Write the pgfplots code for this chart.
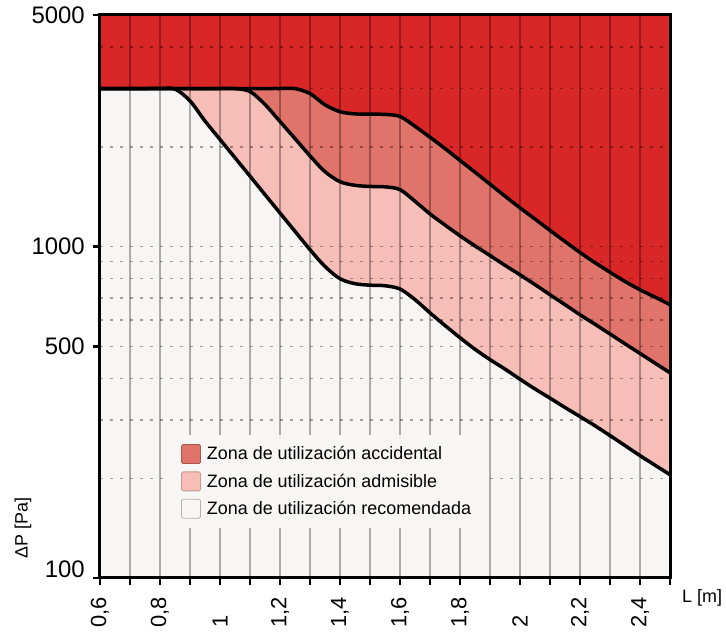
\documentclass[border=0pt]{standalone}
\usepackage{fontspec}
\setmainfont{Liberation Sans}
\usepackage{pgfplots}
\usepackage{pgfplotstable}
\pgfplotsset{compat=1.18}
\definecolor{dred}{RGB}{217,38,38}
\definecolor{acc}{RGB}{224,116,106}
\definecolor{adm}{RGB}{246,190,182}
\definecolor{rec}{RGB}{247,246,244}
\pgfplotstableread{
x y
0.60 3000
1.00 3000
1.10 3000
1.15 3000
1.20 3000
1.25 2998
1.30 2897
1.35 2679
1.40 2553
1.45 2515
1.50 2509
1.55 2506
1.60 2470
1.65 2307
1.70 2138
1.75 1977
1.80 1820
1.85 1677
1.90 1543
1.95 1420
2.00 1309
2.05 1211
2.10 1119
2.15 1036
2.20 960
2.25 894
2.30 837
2.35 785
2.40 741
2.45 704
2.50 668
}\curveA
\pgfplotstableread{
x y
0.60 3000
0.85 3000
0.95 3000
1.00 3000
1.05 2999
1.10 2938
1.15 2685
1.20 2385
1.25 2118
1.30 1879
1.35 1683
1.40 1570
1.45 1531
1.50 1519
1.55 1515
1.60 1486
1.65 1370
1.70 1255
1.75 1162
1.80 1078
1.85 1005
1.90 940
1.95 878
2.00 822
2.05 768
2.10 716
2.15 668
2.20 623
2.25 583
2.30 545
2.35 509
2.40 476
2.45 445
2.50 416
}\curveB
\pgfplotstableread{
x y
0.60 3000
0.70 3000
0.75 3000
0.80 3000
0.85 2989
0.90 2754
0.95 2393
1.00 2106
1.05 1854
1.10 1632
1.15 1435
1.20 1263
1.25 1112
1.30 979
1.35 871
1.40 800
1.45 773
1.50 765
1.55 762
1.60 745
1.65 692
1.70 631
1.75 578
1.80 531
1.85 490
1.90 456
1.95 427
2.00 398
2.05 372
2.10 349
2.15 327
2.20 307
2.25 288
2.30 269
2.35 251
2.40 234
2.45 219
2.50 205
}\curveC
\begin{document}
\begin{tikzpicture}
\path[use as bounding box] (-100bp,-54bp) rectangle (626bp,578bp);
\begin{axis}[
  at={(0,0)}, anchor=south west,
  scale only axis, width=570bp, height=563bp,
  xmin=0.6, xmax=2.5, ymode=log, ymin=100, ymax=5000,
  axis background/.style={fill=dred},
  axis on top,
  axis line style={line width=3bp, black},
  tick align=outside, tick pos=left,
  major tick length=7bp, minor tick length=0pt,
  major tick style={black, line width=2.5bp},
  xtick={0.6,0.7,0.8,0.9,1.0,1.1,1.2,1.3,1.4,1.5,1.6,1.7,1.8,1.9,2.0,2.1,2.2,2.3,2.4,2.5},
  xticklabels={{0,6},{},{0,8},{},{1},{},{1,2},{},{1,4},{},{1,6},{},{1,8},{},{2},{},{2,2},{},{2,4},{}},
  ytick={500,1000,5000}, yticklabels={500,1000,5000},
  extra y ticks={100}, extra y tick labels={100},
  extra y tick style={yticklabel style={yshift=9bp}},
  minor ytick={200,300,400,600,700,800,900,2000,3000,4000},
  xmajorgrids, ymajorgrids, yminorgrids,
  major x grid style={black, opacity=0.3, line width=1.2bp},
  major y grid style={black, opacity=0.35, line width=1.3bp, dash pattern=on 3bp off 7bp},
  minor y grid style={black, opacity=0.35, line width=1.3bp, dash pattern=on 3bp off 7bp},
  /pgf/number format/assume math mode=true,
  yticklabel style={font=\fontsize{24}{24}\selectfont, inner sep=0pt, anchor=east, xshift=-8bp},
  xticklabel style={font=\fontsize{22}{22}\selectfont, inner sep=0pt, yshift=-43bp, rotate=90, anchor=west},
  xlabel={L [m]},
  xlabel style={at={(axis description cs:1.0211,-0.0355)}, anchor=west, inner sep=0pt, font=\fontsize{18}{18}\selectfont},
  ylabel={ΔP [Pa]},
  ylabel style={at={(axis description cs:-0.1351,0.0888)}, anchor=center, inner sep=0pt, font=\fontsize{18}{18}\selectfont},
  legend style={at={(axis description cs:0.1175,0.254)}, anchor=north west, fill=rec, draw=none,
    inner xsep=14bp, inner ysep=9bp, font=\fontsize{18}{18}\selectfont, row sep=7.5bp,
    nodes={inner sep=2bp}, /tikz/every odd column/.append style={column sep=4bp}},
  legend cell align=left,
  legend image code/.code={\draw[#1, line width=0.8bp, rounded corners=1.5bp] (0bp,-9.5bp) rectangle (19bp,9.5bp);},
]
\addplot[fill=acc, draw=none, smooth, forget plot] table {\curveA} \closedcycle;
\addplot[fill=adm, draw=none, smooth, forget plot] table {\curveB} \closedcycle;
\addplot[fill=rec, draw=none, smooth, forget plot] table {\curveC} \closedcycle;
\addplot[black, line width=3.5bp, smooth, forget plot] table {\curveA};
\addplot[black, line width=3.5bp, smooth, forget plot] table {\curveB};
\addplot[black, line width=3.5bp, smooth, forget plot] table {\curveC};
\addlegendimage{fill=acc, draw=acc!75!black}
\addlegendentry{Zona de utilización accidental}
\addlegendimage{fill=adm, draw=adm!80!black}
\addlegendentry{Zona de utilización admisible}
\addlegendimage{fill=rec, draw=black!30}
\addlegendentry{Zona de utilización recomendada}
\end{axis}
\end{tikzpicture}
\end{document}
